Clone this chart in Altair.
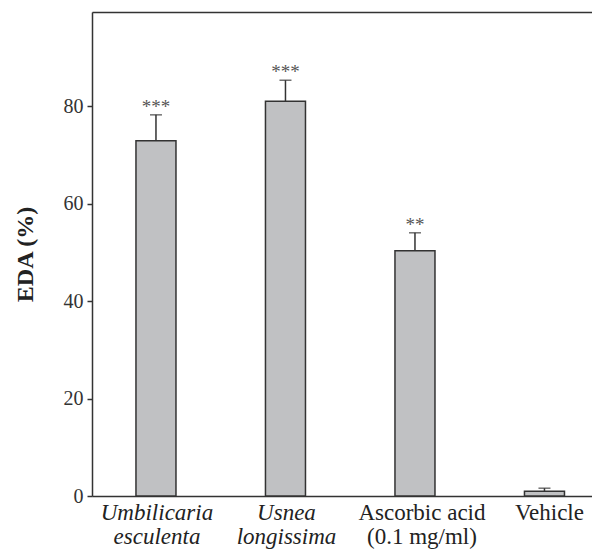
import altair as alt
import pandas as pd

categories = ["Umbilicaria|esculenta", "Usnea|longissima", "Ascorbic acid|(0.1 mg/ml)", "Vehicle"]
values = [72.9, 81.0, 50.3, 1.0]
errors = [5.3, 4.3, 3.7, 0.6]
stars = ["***", "***", "**", ""]
y_ticks = [0, 20, 40, 60, 80]

df = pd.DataFrame({
    "cat": categories,
    "value": values,
    "upper": [v + e for v, e in zip(values, errors)],
    "stars": stars,
})

FONT = "Liberation Serif"
x_scale = alt.Scale(domain=categories, paddingInner=0.691, paddingOuter=0.276, align=0.615)
y_scale = alt.Scale(domain=[0, 99.3], nice=False)

x_bottom = alt.X(
    "cat:N", scale=x_scale, sort=categories, title=None,
    axis=alt.Axis(
        labelAngle=0, labelExpr="split(datum.label, '|')",
        labelFont=FONT, labelFontSize=23, labelColor="#222", labelLineHeight=24,
        labelFontStyle={"expr": "indexof(datum.value, 'Umbilicaria') >= 0 || indexof(datum.value, 'Usnea') >= 0 ? 'italic' : 'normal'"},
        labelOffset={"expr": "indexof(datum.value, 'Ascorbic') >= 0 ? 7 : (datum.value == 'Vehicle' ? 5 : 1)"},
        labelPadding=5, ticks=False, domainColor="#333", domainWidth=1.5,
        labelBaseline="top",
    ),
)
y_enc = alt.Y(
    "value:Q", scale=y_scale, title="EDA (%)",
    axis=alt.Axis(
        values=y_ticks, tickSize=5, tickColor="#333", tickWidth=1.5,
        domainColor="#333", domainWidth=1.5,
        labelFont=FONT, labelFontSize=20, labelColor="#333", labelPadding=4,
        titleFont=FONT, titleFontSize=24, titleFontWeight="bold", titleColor="#222",
        titlePadding=26, grid=False,
    ),
)

bars = alt.Chart(df).mark_bar(fill="#c0c1c3", stroke="#333", strokeWidth=1.5).encode(
    x=x_bottom, y=y_enc,
)
err = alt.Chart(df).mark_rule(color="#333", strokeWidth=1.5).encode(
    x=alt.X("cat:N", scale=x_scale, sort=categories, axis=None),
    y=alt.Y("value:Q", scale=y_scale),
    y2="upper:Q",
)
caps = alt.Chart(df).mark_tick(color="#333", thickness=1.5, size=12, orient="horizontal").encode(
    x=alt.X("cat:N", scale=x_scale, sort=categories, title=None,
            axis=alt.Axis(orient="top", labels=False, ticks=False, domainColor="#333", domainWidth=1.5)),
    y=alt.Y("upper:Q", scale=y_scale),
)
star_text = alt.Chart(df).mark_text(font=FONT, fontSize=19, color="#555", baseline="alphabetic", dy=-2).encode(
    x=alt.X("cat:N", scale=x_scale, sort=categories, axis=None),
    y=alt.Y("upper:Q", scale=y_scale),
    text="stars:N",
)

chart = alt.layer(bars, err, caps, star_text).resolve_axis(x="independent").properties(
    width=500, height=484,
    autosize=alt.AutoSizeParams(type="none"),
    padding={"left": 84, "top": 4, "right": 0, "bottom": 56},
).configure_view(stroke=None).configure(background="white")

chart.save("out.html", embed_options={"renderer": "svg", "actions": False})
